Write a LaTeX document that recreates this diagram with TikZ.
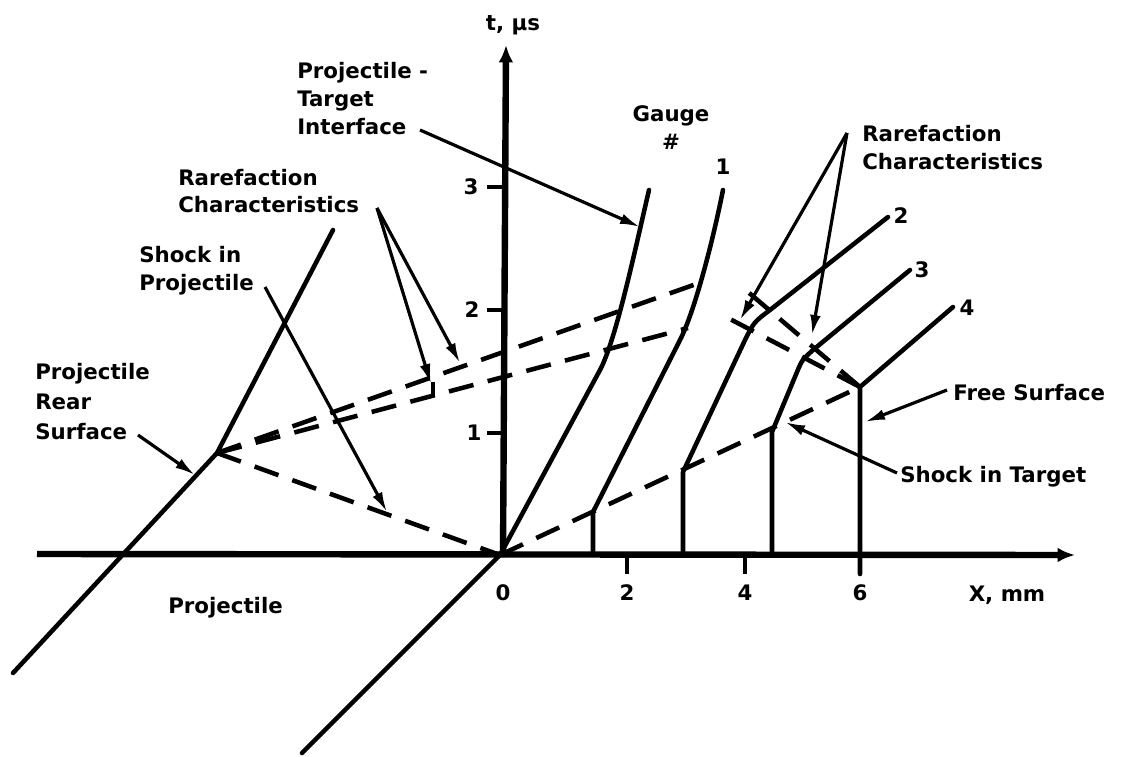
\documentclass[tikz,border=0pt]{standalone}
\usepackage{fontspec}
\setmainfont{DejaVu Sans}
\usetikzlibrary{arrows.meta}
\begin{document}
\begin{tikzpicture}[x=0.75pt,y=-0.75pt,
  lab/.style={font=\fontsize{16}{21}\selectfont\bfseries, inner sep=0pt, align=left},
  traj/.style={line width=3.4pt, line cap=round, line join=round},
  axisline/.style={line width=4.8pt, -{Latex[length=13pt,width=11pt]}},
  tick/.style={line width=3.2pt},
  dsh/.style={line width=3.4pt, dash pattern=on 19pt off 11pt},
  ann/.style={line width=2.4pt, -{Latex[length=15pt,width=8pt]}}]
\useasboundingbox (0,0) rectangle (1132,757);

% key coordinates
\coordinate (O) at (500,555);
\coordinate (XL) at (37,554);
\coordinate (XR) at (1075,555);
\coordinate (TB) at (503,557);
\coordinate (TT) at (506,45);
\coordinate (R) at (217,453);
\coordinate (FS) at (860,387);

% axes
\draw[axisline] (XL) -- (XR);
\draw[axisline] (TB) -- (TT);
\foreach \y in {187,310,433} \draw[tick] (487,\y) -- (504,\y);
\foreach \x in {627,745} \draw[tick] (\x,555) -- (\x,574);

% axis labels
\node[lab] (t3) at (471,187) {3};
\node[lab] (t2) at (472,310) {2};
\node[lab] (t1) at (474,433) {1};
\node[lab] (x0) at (503,593) {0};
\node[lab] (x2) at (627,593) {2};
\node[lab] (x4) at (745,593) {4};
\node[lab] (x6) at (860,593) {6};
\node[lab] (xl) at (1007,595) {X, mm};
\node[lab] (tl) at (513,25) {t, μs};

% projectile side
\draw[traj] (O) -- (302,753);
\draw[traj] (13,673) -- (R) -- (333,230);
\draw[dsh] (R) -- (O);
\draw[dsh] (R) -- (702,282);
\draw[dsh] (R) -- (688,328);

% interface (gauge 0)
\draw[traj] (O) -- (600,370) .. controls (616,340) and (635,250) .. (649,190);
% gauge 1
\draw[traj] (593,555) -- (593,512) -- (680,340) .. controls (693,315) and (711,250) .. (723,190);
% gauge 2
\draw[traj] (683,555) -- (683,472) -- (745,340) .. controls (754,322) .. (770,310) -- (888,217);
% gauge 3
\draw[traj] (772,555) -- (772,432) -- (797,372) .. controls (802,360) .. (813,350) -- (910,270);
% gauge 4 / free surface
\draw[traj] (860,574) -- (FS) -- (953,307);

% shock in target and reflected rarefactions
\draw[dsh] (O) -- (FS);
\draw[dsh] (FS) -- (728,318);
\draw[dsh] (FS) -- (748,292);

% gauge numbers
\node[lab] (g1) at (723,167) {1};
\node[lab] (g2) at (901,216) {2};
\node[lab] (g3) at (922,270) {3};
\node[lab] (g4) at (967,308) {4};

% labels
\node[lab, anchor=west] (lPTI) at (297,99) {Projectile -\\Target\\Interface};
\node[lab, align=center] (lG) at (671,128) {Gauge\\\#};
\node[lab, anchor=west] (lRR) at (862,148) {Rarefaction\\Characteristics};
\node[lab, anchor=west, font=\fontsize{16}{20}\selectfont\bfseries] (lRL) at (178,191) {Rarefaction\\Characteristics};
\node[lab, anchor=west] (lSP) at (139,271) {Shock in\\Projectile};
\node[lab, anchor=west, font=\fontsize{16}{22.5}\selectfont\bfseries] (lPRS) at (35,402) {Projectile\\Rear\\Surface};
\node[lab, anchor=west] (lFS) at (953,393) {Free Surface};
\node[lab, anchor=west] (lST) at (900,477) {Shock in Target};
\node[lab, anchor=west] (lP) at (168,608) {Projectile};

% annotation arrows
\coordinate (aPTI) at (420,130);
\coordinate (aRR) at (847,133);
\coordinate (aRL) at (377,208);
\coordinate (aSP) at (265,287);
\coordinate (aPRS) at (138,435);
\coordinate (aFS) at (947,390);
\coordinate (aST) at (897,473);
\draw[ann] (aPTI) -- (640,227);
\draw[ann] (aRR) -- (740,320);
\draw[ann] (aRR) -- (812,335);
\draw[ann] (aRL) -- (460,363);
\draw[ann] (aRL) -- (431,384);
\draw[line width=2.4pt] (433,382) -- (433,396);
\draw[ann] (aSP) -- (387,512);
\draw[ann] (aPRS) -- (195,475);
\draw[ann] (aFS) -- (865,422);
\draw[ann] (aST) -- (785,422);
\end{tikzpicture}
\end{document}
